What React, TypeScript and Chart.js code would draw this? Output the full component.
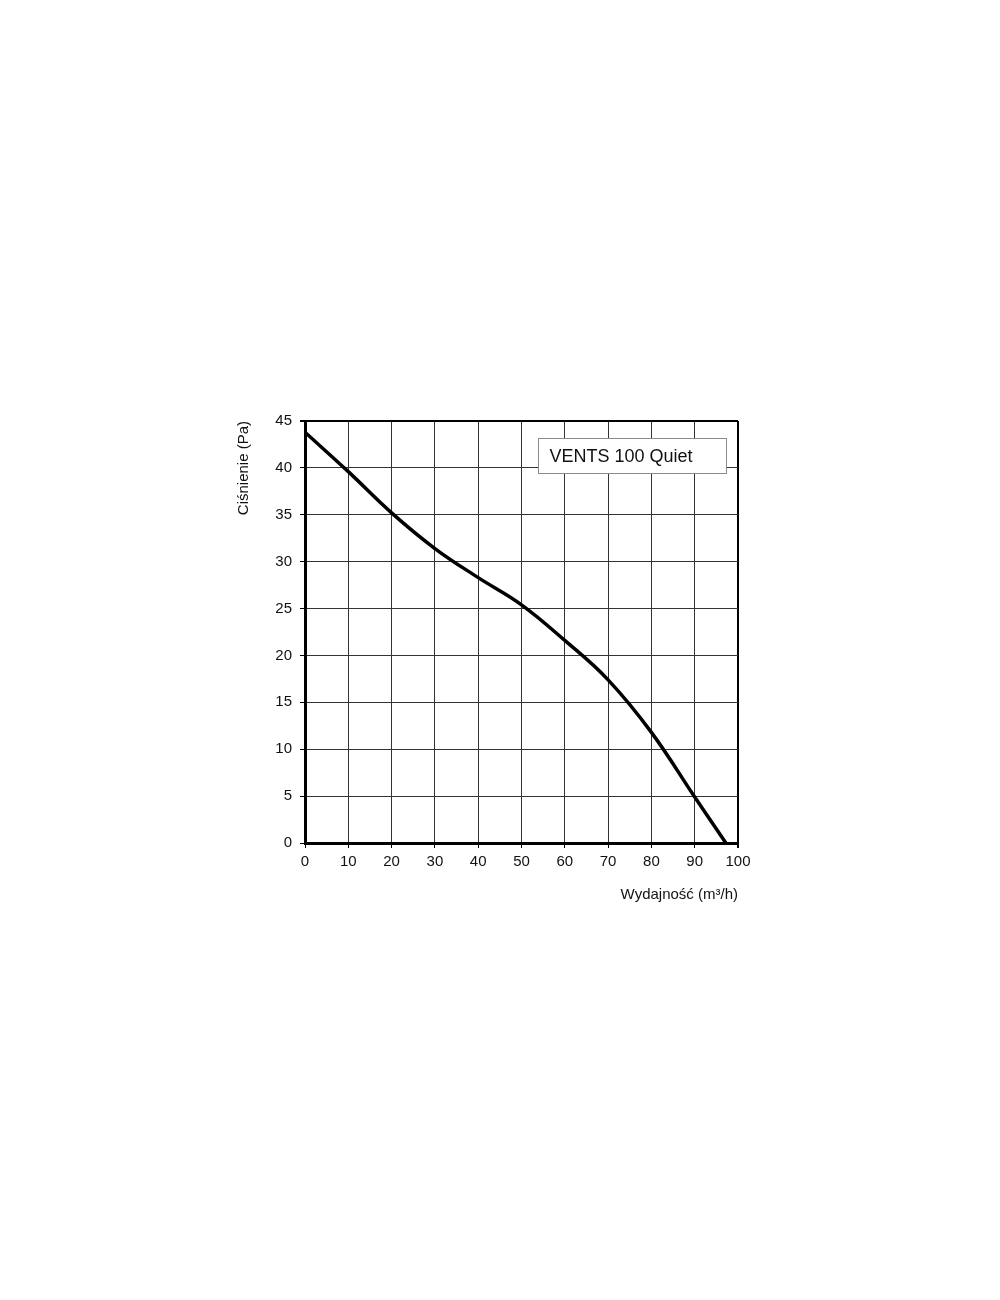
import React, { useEffect, useRef } from "react";
import { Chart, registerables } from "chart.js";

Chart.register(...registerables);

const flowValues = [0, 10, 20, 30, 40, 50, 60, 70, 80, 90, 97.2];
const pressureValues = [43.8, 39.6, 35.2, 31.4, 28.3, 25.4, 21.6, 17.4, 11.8, 4.9, 0];
const seriesLabel = "VENTS 100 Quiet";
const xTitle = "Wydajność (m³/h)";
const yTitle = "Ciśnienie (Pa)";
const xRange = [0, 100, 10];
const yRange = [0, 45, 5];

const FONT = "'Liberation Sans', Arial, Helvetica, sans-serif";

const boxPlugin = {
  id: "nameBox",
  afterDraw(chart: any) {
    const { ctx, chartArea } = chart;
    const x0 = chartArea.left + 233.5;
    const y0 = chartArea.top + 17.5;
    const w = 188;
    const h = 35;
    ctx.save();
    ctx.fillStyle = "#ffffff";
    ctx.fillRect(x0, y0, w, h);
    ctx.strokeStyle = "#8a8a8a";
    ctx.lineWidth = 1;
    ctx.strokeRect(x0, y0, w, h);
    ctx.fillStyle = "#111111";
    ctx.font = `18px ${FONT}`;
    ctx.textBaseline = "middle";
    ctx.textAlign = "left";
    ctx.fillText(seriesLabel, x0 + 11, y0 + h / 2 + 1);
    ctx.restore();
  },
};

export default function App() {
  const ref = useRef<HTMLCanvasElement | null>(null);
  useEffect(() => {
    if (!ref.current) return;
    const points = flowValues.map((x, i) => ({ x, y: pressureValues[i] }));
    const gridColor = (c: any, edge: number) =>
      c.tick && c.tick.value === edge ? "#000000" : "#333333";
    const gridWidth = (c: any, edge: number) =>
      c.tick && c.tick.value === edge ? 2 : 1;
    const chart = new Chart(ref.current, {
      type: "scatter",
      data: {
        datasets: [
          {
            label: seriesLabel,
            data: points,
            showLine: true,
            borderColor: "#000000",
            borderWidth: 3.5,
            pointRadius: 0,
            tension: 0.4,
            fill: false,
          },
        ],
      },
      plugins: [boxPlugin],
      options: {
        responsive: false,
        animation: false,
        layout: { padding: { left: 225, top: 421, right: 262, bottom: 396 } },
        plugins: {
          legend: { display: false },
          tooltip: { enabled: false },
        },
        scales: {
          x: {
            type: "linear",
            min: xRange[0],
            max: xRange[1],
            afterFit: (s: any) => {
              s.height = 61;
            },
            ticks: {
              stepSize: xRange[2],
              padding: 5,
              color: "#111",
              font: { family: FONT, size: 15 },
              maxRotation: 0,
            },
            grid: {
              color: (c: any) => gridColor(c, 100),
              lineWidth: (c: any) => gridWidth(c, 100),
              tickLength: 5,
              tickColor: "#000",
            },
            border: { display: true, color: "#000", width: 3 },
            title: {
              display: true,
              text: xTitle,
              align: "end",
              color: "#111",
              font: { family: FONT, size: 15 },
              padding: { top: 0, bottom: 0 },
            },
          },
          y: {
            type: "linear",
            min: yRange[0],
            max: yRange[1],
            afterFit: (s: any) => {
              s.width = 80;
            },
            ticks: {
              stepSize: yRange[2],
              padding: 8,
              color: "#111",
              font: { family: FONT, size: 15 },
            },
            grid: {
              color: (c: any) => gridColor(c, 45),
              lineWidth: (c: any) => gridWidth(c, 45),
              tickLength: 5,
              tickColor: "#000",
            },
            border: { display: true, color: "#000", width: 3 },
            title: {
              display: true,
              text: yTitle,
              align: "end",
              color: "#111",
              font: { family: FONT, size: 15 },
              padding: { top: 10, bottom: 0 },
            },
          },
        },
      },
    } as any);
    return () => chart.destroy();
  }, []);
  return (
    <div style={{ position: "absolute", left: 0, top: 0, width: 1000, height: 1300, background: "#fff" }}>
      <canvas ref={ref} width={1000} height={1300} style={{ display: "block" }} />
    </div>
  );
}
